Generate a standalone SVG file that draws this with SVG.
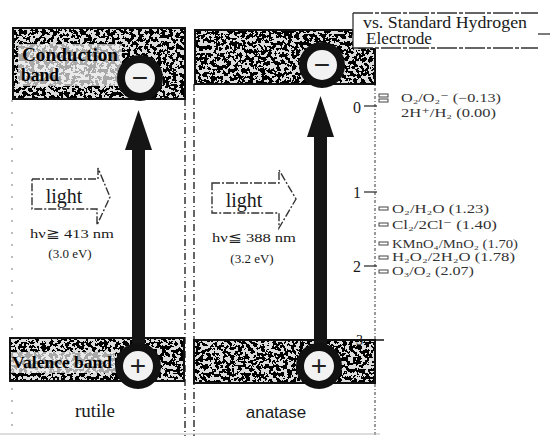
<svg xmlns="http://www.w3.org/2000/svg" width="550" height="436" viewBox="0 0 550 436">
<defs>
<style>
.bg{fill:#ffffff}
.band-bg{fill:#dcdcdc}
.band-edge{fill:none;stroke:#111;stroke-width:2}
.ring{fill:#f2f2f2;stroke:#111;stroke-width:8}
.sign{font-family:"Liberation Sans","DejaVu Sans",sans-serif;font-size:28px;fill:#222;text-anchor:middle}
.serif{font-family:"Liberation Serif","DejaVu Serif",serif;fill:#1a1a1a}
.bandtxt{font-family:"Liberation Serif","DejaVu Serif",serif;fill:#000;font-weight:bold}
.veil{fill:#f0f0f0;opacity:0.7}
.lbl{font-family:"Liberation Serif","DejaVu Serif",serif;font-size:12px;fill:#333}
.divider{stroke:#333;stroke-width:1.5;stroke-dasharray:7 3 1 3;fill:none}
.faint{stroke:#9a9a9a;stroke-width:1.3;stroke-dasharray:2 10;fill:none}
.axis{stroke:#555;stroke-width:1.2;stroke-dasharray:3 2 1 2;fill:none}
.lightarrow{fill:none;stroke:#333;stroke-width:1.4;stroke-dasharray:8 2 2 2}
.bigarrow{fill:#151515}
.tick{stroke:#333;stroke-width:1.3}
.pot{fill:none;stroke:#444;stroke-width:1}
.boxline{stroke:#333;stroke-width:1.3;fill:none;stroke-dasharray:20 2 4 2}
</style>
<filter id="grain" x="0" y="0" width="1" height="1" color-interpolation-filters="sRGB">
<feTurbulence type="fractalNoise" baseFrequency="0.26" numOctaves="3" seed="7" result="n"/>
<feColorMatrix in="n" type="matrix" values="0 0 0 0 0  0 0 0 0 0  0 0 0 0 0  1 0 0 0 0" result="m"/>
<feComponentTransfer in="m" result="t"><feFuncA type="discrete" tableValues="0 0 0 0 0 0 0 0 0 0 1 1 1 1 1 1 1 1 1 1"/></feComponentTransfer>
<feComposite in="t" in2="SourceGraphic" operator="in"/>
</filter>
</defs>

<rect class="bg" x="0" y="0" width="550" height="436"/>

<g id="frame">
<line class="faint" x1="12" y1="100" x2="12" y2="436"/>
<line class="divider" x1="185" y1="99" x2="185" y2="436"/>
<line class="divider" x1="194" y1="84" x2="194" y2="436"/>
<line class="axis" x1="375" y1="48" x2="375" y2="436"/>
<line x1="0" y1="434" x2="380" y2="434" stroke="#bbb" stroke-width="1"/>
</g>

<g id="rutile-conduction-band">
<rect class="band-bg" x="13" y="28" width="172" height="71"/>
<rect x="13" y="28" width="172" height="71" fill="#000" filter="url(#grain)"/>
<rect class="veil" x="18" y="44" width="104" height="42"/>
<rect class="band-edge" x="13" y="28" width="172" height="71"/>
<text class="bandtxt" x="22" y="61" font-size="19" textLength="96" lengthAdjust="spacingAndGlyphs">Conduction</text>
<text class="bandtxt" x="21" y="81" font-size="19" textLength="38" lengthAdjust="spacingAndGlyphs">band</text>
</g>

<g id="anatase-conduction-band">
<rect class="band-bg" x="195" y="30" width="180" height="54"/>
<rect x="195" y="30" width="180" height="54" fill="#000" filter="url(#grain)"/>
<rect class="band-edge" x="195" y="30" width="180" height="54"/>
</g>

<g id="rutile-valence-band">
<rect class="band-bg" x="10" y="338" width="174" height="43"/>
<rect x="10" y="338" width="174" height="43" fill="#000" filter="url(#grain)"/>
<rect class="veil" x="11" y="352" width="104" height="21"/>
<rect class="band-edge" x="10" y="338" width="174" height="43"/>
<text class="bandtxt" x="12" y="368" font-size="17" textLength="100" lengthAdjust="spacingAndGlyphs">Valence band</text>
</g>

<g id="anatase-valence-band">
<rect class="band-bg" x="194" y="340" width="181" height="43"/>
<rect x="194" y="340" width="181" height="43" fill="#000" filter="url(#grain)"/>
<rect class="band-edge" x="194" y="340" width="181" height="43"/>
<line x1="375" y1="340" x2="384" y2="340" stroke="#111" stroke-width="1.5"/>
</g>

<g id="connectors">
<rect class="bigarrow" x="132" y="148" width="13" height="205"/>
<polygon class="bigarrow" points="125,150 152,150 138.5,110"/>
<rect class="bigarrow" x="314" y="135" width="13" height="215"/>
<polygon class="bigarrow" points="307,137 334,137 320.5,96"/>
<path class="lightarrow" d="M32,179 H98 V168 L110,197 L97,225 V209 H32 Z"/>
<path class="lightarrow" d="M212,183 H279 V170 L296,199 L279,228 V213 H212 Z"/>
</g>

<g id="rutile-electron">
<circle class="ring" cx="140" cy="78" r="19"/>
<text class="sign" x="140" y="87">−</text>
</g>
<g id="anatase-electron">
<circle class="ring" cx="322" cy="65" r="19"/>
<text class="sign" x="322" y="74">−</text>
</g>
<g id="rutile-hole">
<circle class="ring" cx="138" cy="366" r="19"/>
<text class="sign" x="138" y="375">+</text>
</g>
<g id="anatase-hole">
<circle class="ring" cx="319" cy="366" r="19"/>
<text class="sign" x="319" y="375">+</text>
</g>

<g id="rutile-light">
<text class="serif" x="64" y="203" font-size="20" text-anchor="middle">light</text>
<text class="serif" x="72" y="238" font-size="13" text-anchor="middle" textLength="84" lengthAdjust="spacingAndGlyphs">hν≧ 413 nm</text>
<text class="serif" x="70" y="258" font-size="13" text-anchor="middle">(3.0 eV)</text>
</g>
<g id="anatase-light">
<text class="serif" x="244" y="207" font-size="20" text-anchor="middle">light</text>
<text class="serif" x="254" y="242" font-size="13" text-anchor="middle" textLength="84" lengthAdjust="spacingAndGlyphs">hν≦ 388 nm</text>
<text class="serif" x="252" y="263" font-size="13" text-anchor="middle">(3.2 eV)</text>
</g>

<g id="names">
<text class="serif" x="95" y="417" font-size="19" text-anchor="middle">rutile</text>
<text x="276" y="418" font-size="17" text-anchor="middle" font-family="'Liberation Sans','DejaVu Sans',sans-serif" fill="#1a1a1a">anatase</text>
</g>

<g id="she-box">
<rect x="353" y="13" width="185" height="35" fill="#ffffff"/>
<line class="boxline" x1="353" y1="13" x2="538" y2="13"/>
<line class="boxline" x1="353" y1="48" x2="538" y2="48"/>
<line x1="353" y1="13" x2="353" y2="48" stroke="#333" stroke-width="1.3"/>
<line x1="538" y1="34" x2="550" y2="34" stroke="#333" stroke-width="1.3"/>
<text class="serif" x="363" y="28" font-size="16" fill="#333" textLength="164" lengthAdjust="spacingAndGlyphs">vs. Standard Hydrogen</text>
<text class="serif" x="366" y="44" font-size="16" fill="#333" textLength="66" lengthAdjust="spacingAndGlyphs">Electrode</text>
</g>

<g id="scale">
<text class="serif" x="353" y="113" font-size="16" fill="#333">0</text>
<line class="tick" x1="364" y1="106" x2="377" y2="106"/>
<text class="serif" x="353" y="198" font-size="16" fill="#333">1</text>
<line class="tick" x1="364" y1="192" x2="377" y2="192"/>
<text class="serif" x="353" y="272" font-size="16" fill="#333">2</text>
<line class="tick" x1="364" y1="266" x2="377" y2="266"/>
<text class="serif" x="356" y="345" font-size="14" fill="#333">3</text>
</g>

<g id="couples">
<rect class="pot" x="379" y="94" width="9" height="3"/>
<rect class="pot" x="379" y="99" width="9" height="3"/>
<text class="lbl" x="401" y="102" textLength="100" lengthAdjust="spacingAndGlyphs">O₂/O₂⁻ (−0.13)</text>
<text class="lbl" x="401" y="117" textLength="95" lengthAdjust="spacingAndGlyphs">2H⁺/H₂ (0.00)</text>
<rect class="pot" x="379" y="207" width="9" height="3"/>
<text class="lbl" x="392" y="213" textLength="97" lengthAdjust="spacingAndGlyphs">O₂/H₂O (1.23)</text>
<rect class="pot" x="379" y="223" width="9" height="3"/>
<text class="lbl" x="392" y="229" textLength="105" lengthAdjust="spacingAndGlyphs">Cl₂/2Cl⁻ (1.40)</text>
<rect class="pot" x="379" y="242" width="9" height="3"/>
<text class="lbl" x="392" y="248" textLength="126" lengthAdjust="spacingAndGlyphs">KMnO₄/MnO₂ (1.70)</text>
<rect class="pot" x="379" y="256" width="9" height="3"/>
<text class="lbl" x="392" y="261" textLength="123" lengthAdjust="spacingAndGlyphs">H₂O₂/2H₂O (1.78)</text>
<rect class="pot" x="379" y="270" width="9" height="3"/>
<text class="lbl" x="392" y="275" textLength="82" lengthAdjust="spacingAndGlyphs">O₃/O₂ (2.07)</text>
</g>
</svg>
